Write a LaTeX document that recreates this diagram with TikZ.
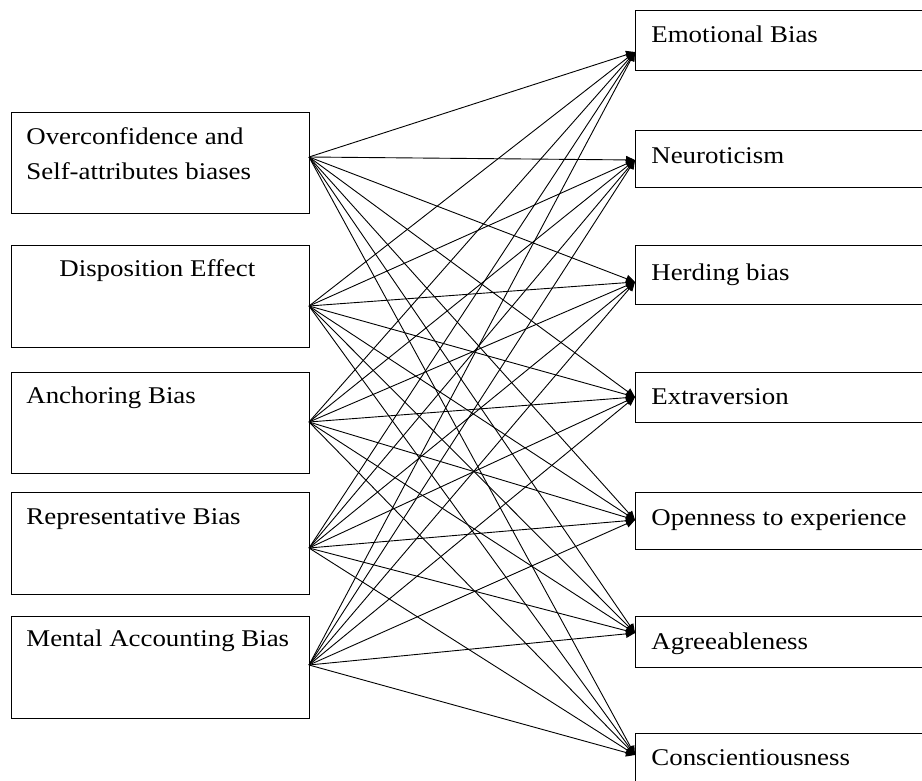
\documentclass[tikz,border=0pt]{standalone}
\usepackage{fontspec}
\setmainfont{Liberation Serif}[FakeStretch=1.12]
\usetikzlibrary{arrows.meta}

\begin{document}
\begin{tikzpicture}[x=0.5pt, y=-0.5pt, >={Triangle[length=4.5pt, width=4pt]},
    lbox/.style={draw, line width=0.6pt, anchor=north west, inner sep=0pt, minimum width=149pt},
    rbox/.style={draw, line width=0.6pt, anchor=north west, inner sep=0pt, minimum width=150pt},
    lbl/.style={anchor=base west, inner sep=0pt, font=\fontsize{12}{14}\selectfont},
    link/.style={->, line width=0.45pt}]
  \useasboundingbox (0,0) rectangle (922,781);

  % biases (left)
  \foreach \n/\t/\h/\o in {ovc/112/50.5/157, dsp/245/51/306, anc/372/50.5/422, rep/492/51/548, mab/616/51/665} {
    \node[lbox, minimum height=\h pt] (\n) at (11,\t) {};
    \coordinate (\n-out) at (309,\o);
  }
  \node[lbl, align=left] (ovc-t) at (26,180) {Overconfidence and\\[3.5pt]Self-attributes biases};
  \node[lbl] (dsp-t) at (59,277) {Disposition Effect};
  \node[lbl] (anc-t) at (26,403) {Anchoring Bias};
  \node[lbl] (rep-t) at (26,524) {Representative Bias};
  \node[lbl] (mab-t) at (26,646) {Mental Accounting Bias};

  % traits (right)
  \foreach \n/\t/\h/\i/\b/\l in {emo/10/30/52/43/Emotional Bias, neu/130/28.5/160/163/Neuroticism,
      her/245/29.5/282/280/Herding bias, ext/372/25/397/404/Extraversion,
      opn/492/28.5/520/525/Openness to experience, agr/616/25.5/633/649/Agreeableness,
      con/733/40/755/765/Conscientiousness} {
    \node[rbox, minimum height=\h pt] (\n) at (635,\t) {};
    \node[lbl] (\n-t) at (651,\b) {\l};
    \coordinate (\n-in) at (635,\i);
  }

  \foreach \s in {ovc,dsp,anc,rep,mab}
    \foreach \d in {emo,neu,her,ext,opn,agr,con}
      \draw[link] (\s-out) -- (\d-in);
\end{tikzpicture}
\end{document}
